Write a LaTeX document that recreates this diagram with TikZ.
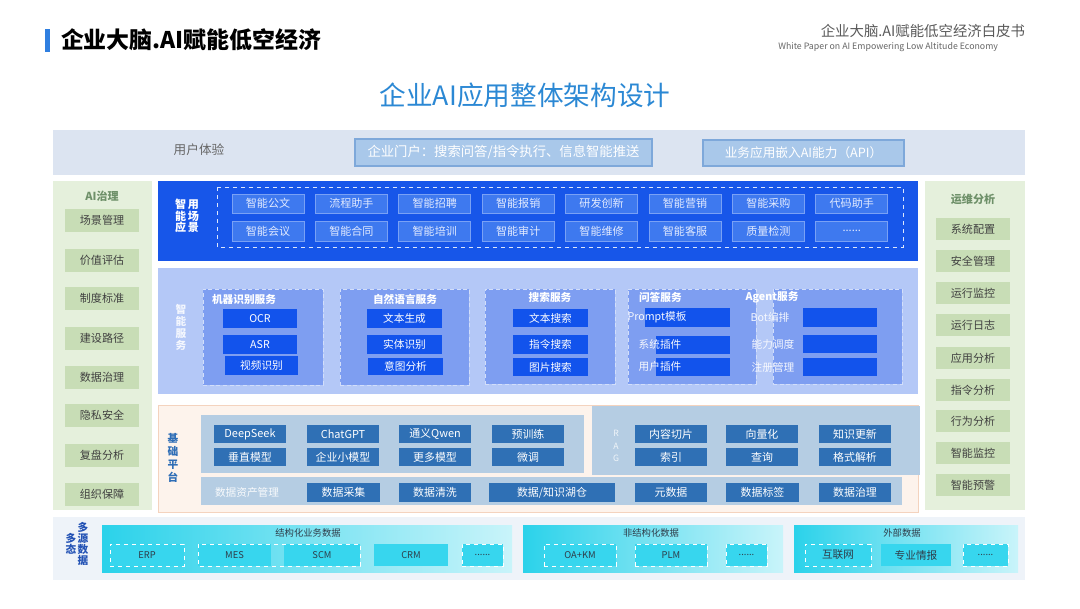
\documentclass[tikz,border=0pt]{standalone}
\usepackage{fontspec}
\setmainfont{Noto Sans CJK SC}
\definecolor{hblue}{HTML}{2F7FE0}
\definecolor{titleblue}{HTML}{2B88D4}
\definecolor{uxbg}{HTML}{DCE4F1}
\definecolor{portalfill}{HTML}{A9C8EA}
\definecolor{portalline}{HTML}{7EA8DA}
\definecolor{greenbg}{HTML}{E5F0DC}
\definecolor{greenbox}{HTML}{C8DDB6}
\definecolor{greentitle}{HTML}{6E9069}
\definecolor{scenbg}{HTML}{1756E9}
\definecolor{scenbox}{HTML}{3E79EF}
\definecolor{scenline}{HTML}{79A1F5}
\definecolor{scentext}{HTML}{E3EBFF}
\definecolor{servbg}{HTML}{B4C8F7}
\definecolor{servgrp}{HTML}{7E9EF1}
\definecolor{servbox}{HTML}{1253EC}
\definecolor{platbg}{HTML}{FDF3EC}
\definecolor{platline}{HTML}{F4D3BE}
\definecolor{platpanel}{HTML}{B5CDE3}
\definecolor{platbox}{HTML}{2F70B5}
\definecolor{platlabel}{HTML}{2E6DB6}
\definecolor{databg}{HTML}{EEF3F9}
\definecolor{cyanL}{HTML}{2BD2EA}
\definecolor{cyanR}{HTML}{C9F4FA}
\definecolor{cyanbox}{HTML}{37D6EE}
\definecolor{datatext}{HTML}{2F3D4A}
\definecolor{datalabel}{HTML}{2453B5}
\newcommand\fsz[1]{\fontsize{#1}{#1}\selectfont}
\newcommand\fszl[2]{\fontsize{#1}{#2}\selectfont}
\newcommand\sixdots{......}
\newcommand\bxc[7]{\node[#6, minimum width={((#4)-(#2))*0.75pt}, minimum height={((#5)-(#3))*0.75pt}] (#1) at ({((#2)+(#4))/2},{((#3)+(#5))/2}) {#7};}
\tikzset{
  base/.style={inner sep=0pt, outer sep=0pt, align=center},
  portal/.style={base, fill=portalfill, draw=portalline, line width=0.8pt, text=white, font={\fsz{10}}},
  gov/.style={base, fill=greenbox, text=black!75, font={\fsz{8.3}}},
  govtitle/.style={base, text=greentitle, font={\fsz{8.3}\bfseries}},
  scen/.style={base, fill=scenbox, draw=scenline, line width=0.6pt, text=scentext, font={\fsz{8.3}}},
  sgrp/.style={base, fill=servgrp, draw=servbg!60!white, densely dashed, line width=0.5pt},
  sbox/.style={base, fill=servbox, text=white, font={\fsz{8}}},
  stitle/.style={base, text=white, font={\fsz{8}\bfseries}},
  slab/.style={base, text=white!88!servbg, font={\fsz{8}}},
  pbox/.style={base, fill=platbox, text=white, font={\fsz{8.2}}},
  dbox/.style={base, fill=cyanbox, text=datatext, font={\fsz{7}}},
  dboxd/.style={dbox, draw=white, dashed, line width=0.7pt},
  dtitle/.style={base, text=datatext, font={\fsz{7}}}
}
\begin{document}
\begin{tikzpicture}[x=0.75pt,y=-0.75pt]
\useasboundingbox (0,0) rectangle (1080,608);
\fill[white] (0,0) rectangle (1080,608);
% header
\fill[hblue] (45,29) rectangle (50,52);
\node[base, anchor=west, font={\fsz{17.2}\bfseries}] (htitle) at (61,40) {企业大脑.AI赋能低空经济};
\node[base, anchor=east, text=black!65, font={\fsz{10.8}}] (hsub) at (1025,31) {企业大脑.AI赋能低空经济白皮书};
\node[base, anchor=east, text=black!60, font={\fsz{6.6}}] (hsub2) at (998,47) {White Paper on AI Empowering Low Altitude Economy};
\node[base, text=titleblue, font={\fsz{20}}] (mtitle) at (525,95) {企业AI应用整体架构设计};
% user experience
\fill[uxbg] (53,130) rectangle (1025,175);
\node[base, text=black!60, font={\fsz{9.5}}] (ux) at (199,150) {用户体验};
\bxc{portal}{355}{139}{652}{166}{portal}{企业门户：搜索问答/指令执行、信息智能推送}
\bxc{api}{703}{140}{904}{166}{portal, font={\fsz{9.5}}}{业务应用嵌入AI能力（API）}
% left column
\fill[greenbg] (53,181) rectangle (152,510);
\node[govtitle] (govt) at (102,196) {AI治理};
\foreach \t/\yy [count=\i] in {场景管理/220,价值评估/260,制度标准/298,建设路径/338,数据治理/377,隐私安全/415,复盘分析/455,组织保障/494}{
  \bxc{gl\i}{65}{\yy-11.5}{139}{\yy+11.5}{gov}{\t}
}
% right column
\fill[greenbg] (925,181) rectangle (1025,510);
\node[govtitle] (opst) at (973,199) {运维分析};
\foreach \t/\yy [count=\i] in {系统配置/229,安全管理/261,运行监控/293,运行日志/325,应用分析/358,指令分析/390,行为分析/421,智能监控/453,智能预警/485}{
  \bxc{gr\i}{936}{\yy-11}{1010}{\yy+11}{gov}{\t}
}
% smart scenarios
\fill[scenbg] (158,181) rectangle (918,261);
\draw[white!85!scenbg, dashed, line width=0.7pt] (217,187) rectangle (903,247);
\node[base, text=white, font={\fszl{8.3}{8.8}\bfseries}, align=center] (scenl) at (187,216) {智\,用\\能\,场\\应\,景};
\foreach \t [count=\i from 0] in {智能公文,流程助手,智能招聘,智能报销,研发创新,智能营销,智能采购,代码助手}{
  \pgfmathsetmacro\xa{232+83.4*\i}
  \bxc{sa\i}{\xa}{194}{\xa+72}{213}{scen}{\t}
}
\foreach \t [count=\i from 0] in {智能会议,智能合同,智能培训,智能审计,智能维修,智能客服,质量检测,\sixdots}{
  \pgfmathsetmacro\xa{232+83.4*\i}
  \bxc{sb\i}{\xa}{221}{\xa+72}{241}{scen}{\t}
}
% smart services
\fill[servbg] (158,268) rectangle (918,394);
\node[base, text=white!85!servbg, font={\fszl{8}{9}\bfseries}] (servl) at (181,327) {智\\能\\服\\务};
\bxc{g1}{203}{289}{323}{385}{sgrp}{}
\bxc{g2}{340}{289}{469}{385}{sgrp}{}
\bxc{g3}{485}{289}{615}{384}{sgrp}{}
\bxc{g4}{628}{289}{756}{384}{sgrp}{}
\bxc{g5}{773}{289}{902}{384}{sgrp}{}
\node[stitle, anchor=west] (g1t) at (212,299) {机器识别服务};
\node[stitle] (g2t) at (405,299) {自然语言服务};
\node[stitle] (g3t) at (550,297) {搜索服务};
\node[stitle, anchor=west] (g4t) at (639,297) {问答服务};
\node[stitle] (g5t) at (772,297) {Agent服务};
\bxc{ocr}{223}{309}{297}{328}{sbox}{OCR}
\bxc{asr}{223}{335}{297}{354}{sbox}{ASR}
\bxc{vid}{225}{356}{298}{375}{sbox}{视频识别}
\bxc{tg}{367}{309}{442}{328}{sbox}{文本生成}
\bxc{ner}{367}{335}{442}{354}{sbox}{实体识别}
\bxc{intent}{368}{358}{443}{375}{sbox}{意图分析}
\bxc{ts}{513}{309}{588}{327}{sbox}{文本搜索}
\bxc{cs}{513}{335}{588}{354}{sbox}{指令搜索}
\bxc{is}{513}{358}{588}{376}{sbox}{图片搜索}
\bxc{qa1}{645}{308}{730}{327}{sbox}{}
\bxc{qa2}{656}{336}{730}{354}{sbox}{}
\bxc{qa3}{656}{358}{730}{376}{sbox}{}
\node[slab] (qa1t) at (657,317) {Prompt模板};
\node[slab] (qa2t) at (660,344) {系统插件};
\node[slab] (qa3t) at (660,366) {用户插件};
\bxc{ag1}{803}{308}{877}{327}{sbox}{}
\bxc{ag2}{803}{335}{877}{353}{sbox}{}
\bxc{ag3}{803}{358}{877}{376}{sbox}{}
\node[slab] (ag1t) at (770,317) {Bot编排};
\node[slab] (ag2t) at (773,344) {能力调度};
\node[slab] (ag3t) at (773,367) {注册管理};
% basic platform
\filldraw[fill=platbg, draw=platline, line width=0.6pt] (158,405) rectangle (918,512);
\node[base, text=platlabel, font={\fszl{8}{9.6}\bfseries}] (platl) at (173,458) {基\\础\\平\\台};
\fill[platpanel] (201,415) rectangle (584,473);
\fill[platpanel] (592,406) rectangle (920,475);
\fill[platpanel] (201,477) rectangle (902,505);
\foreach \t/\xa [count=\i] in {DeepSeek/214,ChatGPT/307,通义Qwen/399,预训练/492}{
  \bxc{ma\i}{\xa}{425}{\xa+72}{443}{pbox}{\t}
}
\foreach \t/\xa [count=\i] in {垂直模型/214,企业小模型/307,更多模型/399,微调/492}{
  \bxc{mb\i}{\xa}{448}{\xa+72}{466}{pbox}{\t}
}
\node[base, text=white!80!platpanel, font={\fszl{6.5}{9.5}}] (ragl) at (616,446) {R\\A\\G};
\foreach \t/\xa [count=\i] in {内容切片/635,向量化/726,知识更新/819}{
  \bxc{ra\i}{\xa}{425}{\xa+72}{443}{pbox}{\t}
}
\foreach \t/\xa [count=\i] in {索引/635,查询/726,格式解析/819}{
  \bxc{rb\i}{\xa}{448}{\xa+72}{466}{pbox}{\t}
}
\node[base, text=white!90!platpanel, font={\fsz{8}}] (dam) at (247,492) {数据资产管理};
\bxc{d1}{307}{483}{380}{502}{pbox}{数据采集}
\bxc{d2}{399}{483}{471}{502}{pbox}{数据清洗}
\bxc{d3}{489}{483}{615}{502}{pbox}{数据/知识湖仓}
\bxc{d4}{635}{483}{707}{502}{pbox}{元数据}
\bxc{d5}{726}{483}{799}{502}{pbox}{数据标签}
\bxc{d6}{819}{483}{891}{502}{pbox}{数据治理}
% multi-source data
\fill[databg] (53,517) rectangle (1025,580);
\node[base, text=datalabel, font={\fszl{8}{8.4}\bfseries}] (msa) at (83,544) {多\\源\\数\\据};
\node[base, text=datalabel, font={\fszl{8}{8.4}\bfseries}] (msb) at (71,544) {多\\态};
\shade[left color=cyanL, right color=cyanR] (102,525) rectangle (512,572);
\shade[left color=cyanL, right color=cyanR] (523,525) rectangle (783,572);
\shade[left color=cyanL, right color=cyanR] (794,525) rectangle (1018,572);
\node[dtitle] (sd) at (308,533) {结构化业务数据};
\node[dtitle] (ud) at (651,533) {非结构化数据};
\node[dtitle] (ed) at (902,533) {外部数据};
\bxc{erp}{110}{544}{184}{566}{dboxd}{ERP}
\bxc{mes}{198}{544}{271}{566}{dbox}{MES}
\bxc{scm}{284}{544}{360}{566}{dbox}{SCM}
\draw[white, dashed, line width=0.7pt] (mes.north west) rectangle (scm.south east);
\bxc{crm}{374}{544}{448}{566}{dbox}{CRM}
\bxc{sdm}{462}{544}{503}{566}{dboxd}{\sixdots}
\bxc{oakm}{544}{544}{616}{566}{dboxd}{OA+KM}
\bxc{plm}{635}{544}{707}{566}{dboxd}{PLM}
\bxc{udm}{726}{544}{767}{566}{dboxd}{\sixdots}
\bxc{web}{805}{544}{871}{566}{dboxd, font={\fsz{8}}}{互联网}
\bxc{intel}{881}{544}{951}{566}{dbox, font={\fsz{8}}}{专业情报}
\bxc{edm}{963}{544}{1008}{566}{dboxd}{\sixdots}
\end{tikzpicture}
\end{document}
